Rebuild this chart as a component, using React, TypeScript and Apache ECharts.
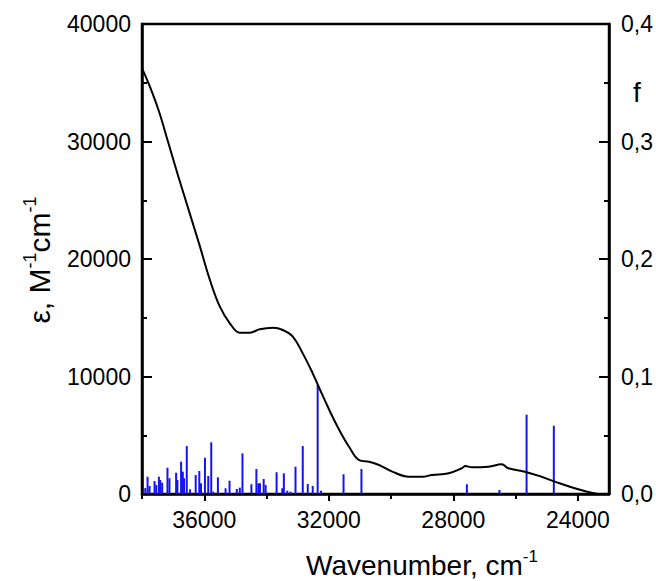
import React, { useEffect, useRef } from "react";
import * as echarts from "echarts";

const wavenumber = [38000, 37789, 37470, 37150, 36831, 36457, 36138, 35818, 35499, 35179, 34860, 34540, 34221, 33795, 33476, 33156, 32837, 32517, 32304, 31984, 31665, 31345, 31026, 30706, 30387, 29961, 29428, 29003, 28683, 28150, 27725, 27616, 27405, 26872, 26447, 26234, 25700, 25169, 24741, 24102, 23357, 23000];
const epsilon = [36230, 34950, 32680, 29850, 27000, 23800, 21050, 18210, 15940, 14530, 13730, 13730, 14020, 14150, 13960, 13390, 11970, 10270, 9000, 7150, 5450, 4000, 2890, 2750, 2470, 1900, 1470, 1470, 1620, 1760, 2190, 2380, 2270, 2320, 2530, 2190, 1900, 1470, 1050, 490, 0, -60];

const stickPos = [37895, 37821, 37757, 37597, 37543, 37457, 37415, 37351, 37182, 37118, 36904, 36863, 36744, 36690, 36649, 36562, 36457, 36275, 36160, 36105, 35978, 35872, 35776, 35712, 35562, 35316, 35188, 34955, 34859, 34773, 34486, 34326, 34262, 34211, 34092, 34029, 33677, 33495, 33444, 33335, 33230, 33070, 32837, 32677, 32517, 32358, 32249, 31527, 30952, 27565, 26520, 25648, 24773];
const stickF = [0.005, 0.0147, 0.0068, 0.011, 0.0077, 0.0147, 0.0119, 0.0096, 0.0224, 0.0134, 0.0181, 0.0119, 0.0275, 0.019, 0.0134, 0.0408, 0.004, 0.0162, 0.0196, 0.0091, 0.0309, 0.0153, 0.044, 0.002, 0.0142, 0.0049, 0.0113, 0.0043, 0.0054, 0.0346, 0.0083, 0.0213, 0.0091, 0.0091, 0.0128, 0.0077, 0.0185, 0.0049, 0.0176, 0.0028, 0.002, 0.0232, 0.0408, 0.0085, 0.0068, 0.0928, 0.0028, 0.0168, 0.0213, 0.0083, 0.0034, 0.0675, 0.0581];

const xMajorTicks = [24000, 28000, 32000, 36000];
const xMinorTicks = [26000, 30000, 34000, 38000];

const FONT = "'Liberation Sans', Arial, sans-serif";

export default function App() {
  const ref = useRef<HTMLDivElement>(null);
  useEffect(() => {
    if (!ref.current) return;
    const chart = echarts.init(ref.current, undefined, { renderer: "svg" });
    const axisLine = { show: true, lineStyle: { color: "#000", width: 2.5 } };
    const plain = (v: number) => String(v);
    const option: any = {
      animation: false,
      backgroundColor: "#fff",
      textStyle: { fontFamily: FONT },
      grid: { left: 142, right: 45, top: 24, bottom: 87, show: true, borderColor: "#000", borderWidth: 2.5, backgroundColor: "transparent" },
      xAxis: [
        {
          type: "value", min: 23000, max: 38000, inverse: true, position: "bottom",
          axisLine,
          splitLine: { show: false },
          axisTick: { show: true, inside: false, length: 7, customValues: xMajorTicks, lineStyle: { color: "#000", width: 2 } },
          axisLabel: { show: true, customValues: xMajorTicks, fontSize: 23, color: "#000", margin: 14, fontFamily: FONT, formatter: plain },
        },
        {
          type: "value", min: 23000, max: 38000, inverse: true, position: "bottom",
          axisLine: { show: false },
          splitLine: { show: false },
          axisTick: { show: true, inside: false, length: 5, customValues: xMinorTicks, lineStyle: { color: "#000", width: 2 } },
          axisLabel: { show: false },
        },
      ],
      yAxis: [
        {
          type: "value", min: 0, max: 40000, interval: 10000, position: "left",
          axisLine,
          splitLine: { show: false },
          axisTick: { show: true, inside: true, length: 10, lineStyle: { color: "#000", width: 2 } },
          minorTick: { show: true, splitNumber: 2, length: 5, lineStyle: { color: "#000", width: 2 } },
          axisLabel: { fontSize: 23, color: "#000", margin: 11, fontFamily: FONT, formatter: plain },
        },
        {
          type: "value", min: 0, max: 0.4, interval: 0.1, position: "right",
          axisLine,
          splitLine: { show: false },
          axisTick: { show: true, inside: true, length: 10, lineStyle: { color: "#000", width: 2 } },
          minorTick: { show: true, splitNumber: 2, length: 5, lineStyle: { color: "#000", width: 2 } },
          axisLabel: { fontSize: 23, color: "#000", margin: 12, fontFamily: FONT, formatter: (v: number) => v.toFixed(1).replace(".", ",") },
        },
      ],
      series: [
        {
          type: "bar", xAxisIndex: 0, yAxisIndex: 1, barWidth: 2, z: 2,
          itemStyle: { color: "#1414f0" },
          data: stickPos.map((p, i) => [p, stickF[i]]),
        },
        {
          type: "line", xAxisIndex: 0, yAxisIndex: 0, z: 3, smooth: 0.4, showSymbol: false,
          lineStyle: { color: "#000", width: 2 },
          data: wavenumber.map((w, i) => [w, epsilon[i]]),
        },
      ],
      graphic: [
        {
          type: "text", x: 422, y: 565,
          style: {
            text: "{m|Wavenumber, cm}{s|-1}",
            align: "center", verticalAlign: "middle", fill: "#000",
            rich: {
              m: { fontSize: 28, lineHeight: 34, fontFamily: FONT, fill: "#000" },
              s: { fontSize: 17, lineHeight: 12, verticalAlign: "top", fontFamily: FONT, fill: "#000" },
            },
          },
        },
        {
          type: "text", x: 39, y: 260, rotation: Math.PI / 2,
          style: {
            text: "{m|ε, M}{s|-1}{m|cm}{s|-1}",
            align: "center", verticalAlign: "middle", fill: "#000",
            rich: {
              m: { fontSize: 30, lineHeight: 36, fontFamily: FONT, fill: "#000" },
              s: { fontSize: 18, lineHeight: 12, verticalAlign: "top", fontFamily: FONT, fill: "#000" },
            },
          },
        },
        {
          type: "text", x: 637, y: 92,
          style: { text: "f", fontSize: 28, fontFamily: FONT, fill: "#000", align: "center", verticalAlign: "middle" },
        },
      ],
    };
    chart.setOption(option);
    return () => chart.dispose();
  }, []);
  return <div ref={ref} style={{ position: "fixed", left: 0, top: 0, width: 656, height: 581 }} />;
}
